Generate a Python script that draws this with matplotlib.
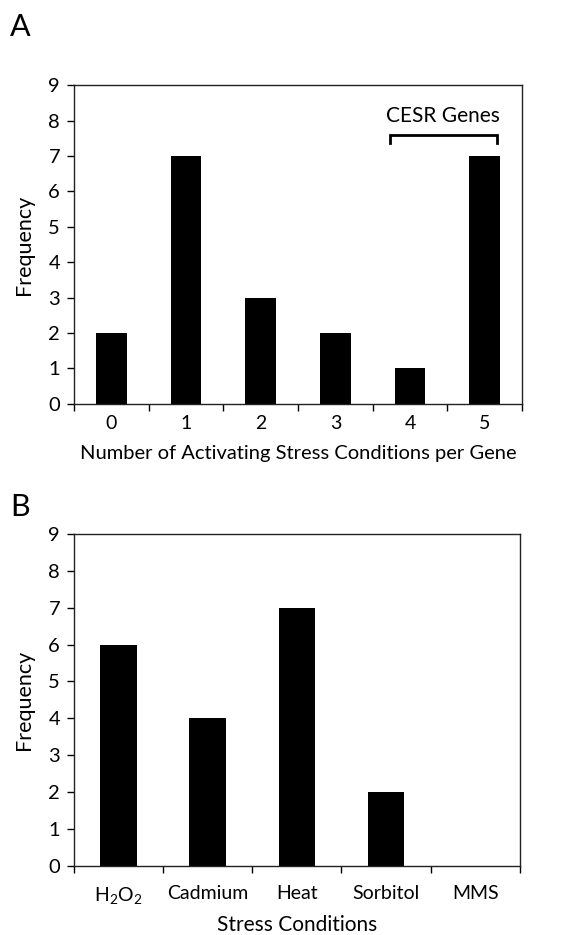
import matplotlib
matplotlib.use("Agg")
import matplotlib.pyplot as plt
import numpy as np

# Data
a_categories = ["0", "1", "2", "3", "4", "5"]
a_counts = [2, 7, 3, 2, 1, 7]
b_categories = ["H$_2$O$_2$", "Cadmium", "Heat", "Sorbitol", "MMS"]
b_counts = [6, 4, 7, 2, 0]

plt.rcParams["font.family"] = ["Lato", "DejaVu Sans"]
plt.rcParams["mathtext.default"] = "regular"

fig = plt.figure(figsize=(5.85, 9.35), dpi=100)


def style_axes(ax, ncat, labels, xpad):
    ax.set_xlim(-0.5, ncat - 0.5)
    ax.set_ylim(0, 9)
    ax.set_yticks(range(10))
    # boundary ticks on x, labels at the centres
    ax.set_xticks(np.arange(ncat + 1) - 0.5)
    ax.set_xticklabels([])
    ax.set_xticks(np.arange(ncat), minor=True)
    ax.set_xticklabels(labels, minor=True)
    ax.tick_params(axis="x", which="minor", length=0, pad=xpad, labelsize=14)
    ax.tick_params(axis="x", which="major", length=5, width=1, direction="out")
    ax.tick_params(axis="y", length=5, width=1, direction="out", labelsize=14.5, pad=5)
    for sp in ax.spines.values():
        sp.set_linewidth(1.0)
        sp.set_color("#222222")
    ax.set_ylabel("Frequency", fontsize=15.5, labelpad=10)


# Panel A
ax1 = fig.add_axes([0.1265, 0.568, 0.766, 0.341])
x_a = np.arange(len(a_counts))
ax1.bar(x_a, a_counts, width=0.41, color="black")
style_axes(ax1, len(a_counts), a_categories, 8)
ax1.set_xlabel("Number of Activating Stress Conditions per Gene", fontsize=14.5, labelpad=9)

# CESR bracket over 4 and 5
bx0, bx1 = 3.73, 5.16
ax1.plot([bx0, bx0, bx1, bx1], [7.37, 7.6, 7.6, 7.37], color="black", lw=2,
         solid_joinstyle="miter")
ax1.text((bx0 + bx1) / 2, 8.12, "CESR Genes", ha="center", va="center", fontsize=15)

fig.text(0.017, 0.971, "A", fontsize=22, ha="left", va="center")

# Panel B
ax2 = fig.add_axes([0.1265, 0.074, 0.762, 0.355])
x_b = np.arange(len(b_counts))
ax2.bar(x_b, b_counts, width=0.41, color="black")
style_axes(ax2, len(b_counts), b_categories, 14)
ax2.set_xlabel("Stress Conditions", fontsize=15, labelpad=6)

fig.text(0.017, 0.458, "B", fontsize=22, ha="left", va="center")

fig.savefig("out.png", dpi=100)
